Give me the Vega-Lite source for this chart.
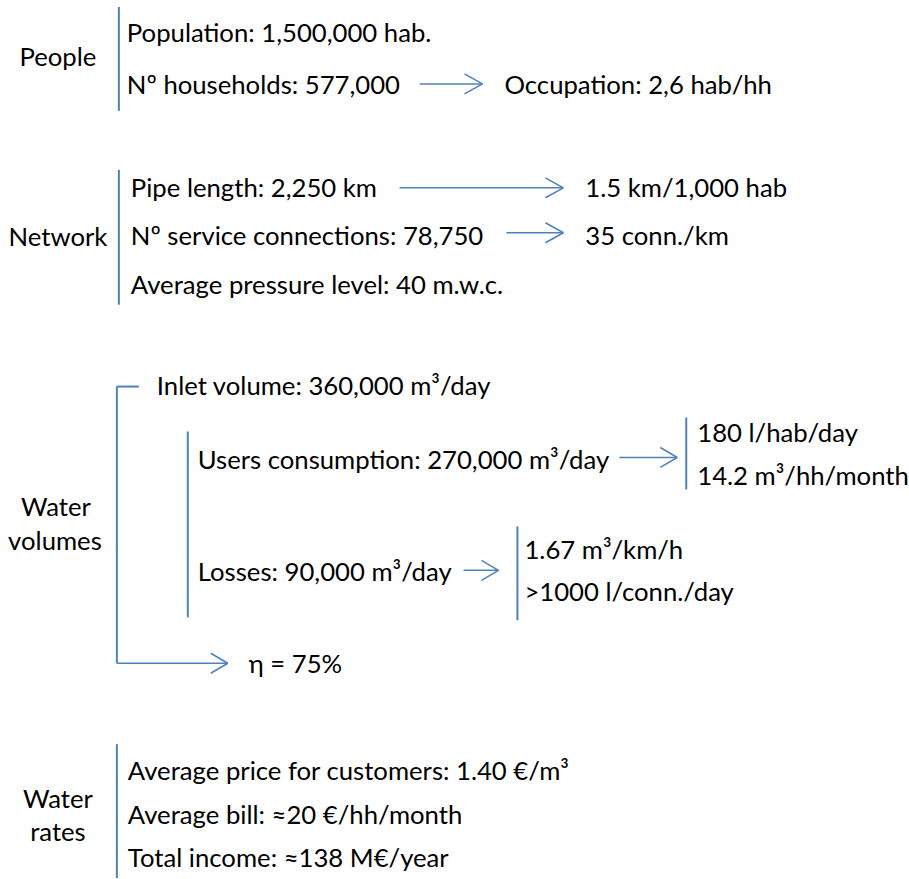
{
  "$schema": "https://vega.github.io/schema/vega-lite/v6.json",
  "autosize": {"type": "fit", "contains": "padding"},
  "width": 909,
  "height": 879,
  "padding": 0,
  "background": "white",
  "config": {"view": {"stroke": null}},
  "datasets": {
    "items": [
      {"x": 127, "y": 32, "label": "Population: 1,500,000 hab."},
      {"x": 127, "y": 84, "label": "Nº households: 577,000"},
      {"x": 505, "y": 84, "label": "Occupation: 2,6 hab/hh"},
      {"x": 131, "y": 187, "label": "Pipe length: 2,250 km"},
      {"x": 131, "y": 235, "label": "Nº service connections: 78,750"},
      {"x": 131, "y": 284, "label": "Average pressure level: 40 m.w.c."},
      {"x": 586, "y": 187, "label": "1.5 km/1,000 hab"},
      {"x": 586, "y": 235, "label": "35 conn./km"},
      {"x": 157, "y": 385, "label": "Inlet volume: 360,000 m³/day"},
      {"x": 198, "y": 460, "label": "Users consumption: 270,000 m³/day"},
      {"x": 698, "y": 432, "label": "180 l/hab/day"},
      {"x": 698, "y": 476, "label": "14.2 m³/hh/month"},
      {"x": 198, "y": 572, "label": "Losses: 90,000 m³/day"},
      {"x": 525, "y": 550, "label": "1.67  m³/km/h"},
      {"x": 525, "y": 592, "label": ">1000 l/conn./day"},
      {"x": 249, "y": 664, "label": "η = 75%"},
      {"x": 128, "y": 771, "label": "Average price for customers: 1.40 €/m³"},
      {"x": 128, "y": 815, "label": "Average bill: ≈20 €/hh/month"},
      {"x": 128, "y": 858, "label": "Total income: ≈138 M€/year"}
    ],
    "groups": [
      {"x": 58, "y": 56, "label": "People"},
      {"x": 58, "y": 236, "label": "Network"},
      {"x": 56, "y": 507, "label": "Water"},
      {"x": 55, "y": 541, "label": "volumes"},
      {"x": 58, "y": 799, "label": "Water"},
      {"x": 58, "y": 832, "label": "rates"}
    ],
    "segments": [
      {"kind": "bar", "x": 119, "y": 7, "x2": 119, "y2": 111},
      {"kind": "bar", "x": 119, "y": 170, "x2": 119, "y2": 305},
      {"kind": "bar", "x": 117, "y": 387, "x2": 139, "y2": 387},
      {"kind": "bar", "x": 117, "y": 387, "x2": 117, "y2": 664},
      {"kind": "bar", "x": 188, "y": 432, "x2": 188, "y2": 618},
      {"kind": "bar", "x": 687, "y": 418, "x2": 687, "y2": 490},
      {"kind": "bar", "x": 518, "y": 527, "x2": 518, "y2": 621},
      {"kind": "bar", "x": 117, "y": 745, "x2": 117, "y2": 879},
      {"kind": "arrow", "x": 117, "y": 664, "x2": 228, "y2": 664},
      {"kind": "arrow", "x": 211, "y": 654, "x2": 228, "y2": 664},
      {"kind": "arrow", "x": 211, "y": 674, "x2": 228, "y2": 664},
      {"kind": "arrow", "x": 420, "y": 84, "x2": 483, "y2": 84},
      {"kind": "arrow", "x": 465, "y": 74, "x2": 483, "y2": 84},
      {"kind": "arrow", "x": 465, "y": 94, "x2": 483, "y2": 84},
      {"kind": "arrow", "x": 400, "y": 188, "x2": 564, "y2": 188},
      {"kind": "arrow", "x": 546, "y": 178, "x2": 564, "y2": 188},
      {"kind": "arrow", "x": 546, "y": 198, "x2": 564, "y2": 188},
      {"kind": "arrow", "x": 507, "y": 233, "x2": 564, "y2": 233},
      {"kind": "arrow", "x": 546, "y": 223, "x2": 564, "y2": 233},
      {"kind": "arrow", "x": 546, "y": 243, "x2": 564, "y2": 233},
      {"kind": "arrow", "x": 620, "y": 458, "x2": 678, "y2": 458},
      {"kind": "arrow", "x": 661, "y": 448, "x2": 678, "y2": 458},
      {"kind": "arrow", "x": 661, "y": 468, "x2": 678, "y2": 458},
      {"kind": "arrow", "x": 464, "y": 571, "x2": 499, "y2": 571},
      {"kind": "arrow", "x": 482, "y": 561, "x2": 499, "y2": 571},
      {"kind": "arrow", "x": 482, "y": 581, "x2": 499, "y2": 571}
    ]
  },
  "layer": [
    {
      "data": {"name": "segments"},
      "transform": [{"filter": "datum.kind === 'bar'"}],
      "mark": {"type": "rule", "color": "#4F81BD", "strokeWidth": 2},
      "encoding": {
        "x": {"field": "x", "type": "quantitative", "scale": {"domain": [0, 909], "nice": false, "zero": false}, "axis": null},
        "y": {"field": "y", "type": "quantitative", "scale": {"domain": [0, 879], "nice": false, "zero": false, "reverse": true}, "axis": null},
        "x2": {"field": "x2"},
        "y2": {"field": "y2"}
      }
    },
    {
      "data": {"name": "segments"},
      "transform": [{"filter": "datum.kind === 'arrow'"}],
      "mark": {"type": "rule", "color": "#4F81BD", "strokeWidth": 1.5},
      "encoding": {
        "x": {"field": "x", "type": "quantitative", "scale": {"domain": [0, 909], "nice": false, "zero": false}, "axis": null},
        "y": {"field": "y", "type": "quantitative", "scale": {"domain": [0, 879], "nice": false, "zero": false, "reverse": true}, "axis": null},
        "x2": {"field": "x2"},
        "y2": {"field": "y2"}
      }
    },
    {
      "data": {"name": "items"},
      "mark": {"type": "text", "align": "left", "baseline": "middle", "dy": 2, "font": "Lato", "fontSize": 25.7, "color": "black"},
      "encoding": {
        "x": {"field": "x", "type": "quantitative", "scale": {"domain": [0, 909], "nice": false, "zero": false}, "axis": null},
        "y": {"field": "y", "type": "quantitative", "scale": {"domain": [0, 879], "nice": false, "zero": false, "reverse": true}, "axis": null},
        "text": {"field": "label"}
      }
    },
    {
      "data": {"name": "groups"},
      "mark": {"type": "text", "align": "center", "baseline": "middle", "dy": 2, "font": "Lato", "fontSize": 25.7, "color": "black"},
      "encoding": {
        "x": {"field": "x", "type": "quantitative", "scale": {"domain": [0, 909], "nice": false, "zero": false}, "axis": null},
        "y": {"field": "y", "type": "quantitative", "scale": {"domain": [0, 879], "nice": false, "zero": false, "reverse": true}, "axis": null},
        "text": {"field": "label"}
      }
    }
  ]
}
